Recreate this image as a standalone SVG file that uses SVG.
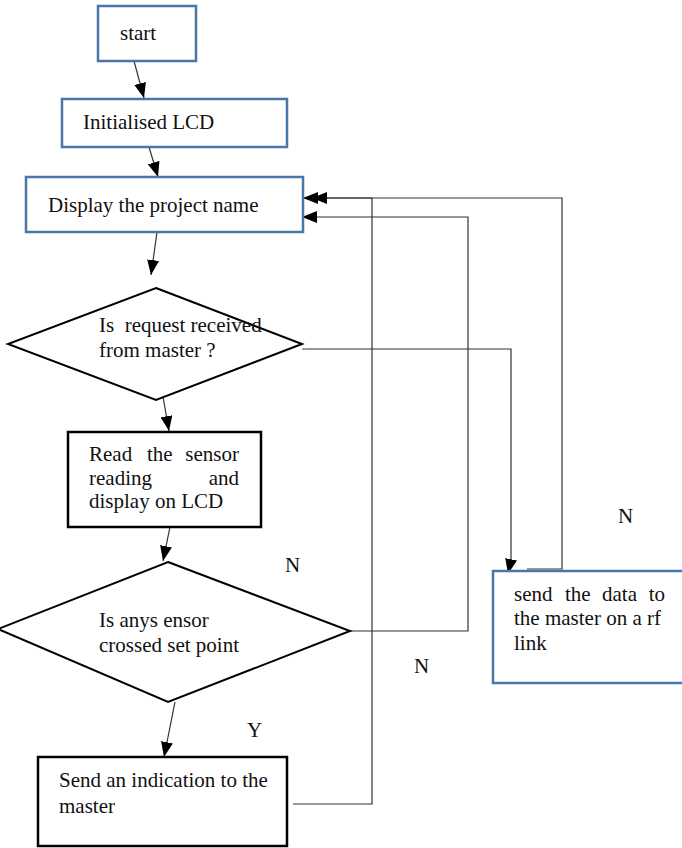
<svg xmlns="http://www.w3.org/2000/svg" width="682" height="848" viewBox="0 0 682 848">
<defs>
<marker id="ah" viewBox="0 0 15 12" refX="15" refY="6" markerWidth="15" markerHeight="12" markerUnits="userSpaceOnUse" orient="auto">
<path d="M0,0 L15,6 L0,12 Z" fill="#000"/>
</marker>
</defs>
<style>
.t{font-family:'Liberation Serif','Times New Roman','DejaVu Serif',serif;font-size:21px;fill:#111}
.e{text-anchor:end}
.blue{fill:#fff;stroke:#4a76a8;stroke-width:2.5}
.blk{fill:#fff;stroke:#000;stroke-width:2.5}
.dia{fill:#fff;stroke:#000;stroke-width:2}
.con{fill:none;stroke:#333;stroke-width:1.2}
</style>
<rect width="682" height="848" fill="#fff"/>
<g id="connectors">
<line class="con" x1="134" y1="61" x2="144" y2="98" marker-end="url(#ah)"/>
<line class="con" x1="149" y1="147" x2="158" y2="177" marker-end="url(#ah)"/>
<line class="con" x1="157" y1="232" x2="151" y2="275" marker-end="url(#ah)"/>
<line class="con" x1="162" y1="391" x2="169" y2="431" marker-end="url(#ah)"/>
<line class="con" x1="170" y1="527" x2="163" y2="561" marker-end="url(#ah)"/>
<line class="con" x1="175" y1="702" x2="164" y2="757" marker-end="url(#ah)"/>
<polyline class="con" points="302,349 511,349 511,560 508,574" marker-end="url(#ah)"/>
<polyline class="con" points="527,569 562,569 562,198 303,198" marker-end="url(#ah)"/>
<polyline class="con" points="293,804 372,804 372,198 312,198" marker-end="url(#ah)"/>
<polyline class="con" points="350,631 468,631 468,217 302,217" marker-end="url(#ah)"/>
</g>
<g id="start">
<rect class="blue" x="98" y="6" width="98" height="55"/>
<text class="t" x="120" y="40">start</text>
</g>
<g id="init">
<rect class="blue" x="62" y="99" width="225" height="48"/>
<text class="t" x="83" y="129">Initialised LCD</text>
</g>
<g id="display">
<rect class="blue" x="26" y="177" width="277" height="55"/>
<text class="t" x="48" y="212">Display the project name</text>
</g>
<g id="request">
<polygon class="dia" points="156,288 302,344 156,400 8,344"/>
<text class="t" x="99" y="332" xml:space="preserve">Is  request received</text>
<text class="t" x="99" y="357">from master ?</text>
</g>
<g id="read">
<rect class="blk" x="68" y="432" width="193" height="95"/>
<text class="t" x="89" y="461">Read</text>
<text class="t" x="147" y="461">the</text>
<text class="t e" x="239" y="461">sensor</text>
<text class="t" x="89" y="485">reading</text>
<text class="t e" x="239" y="485">and</text>
<text class="t" x="89" y="508">display on LCD</text>
</g>
<g id="crossed">
<polygon class="dia" points="168,562 350,631 168,702 -2,629"/>
<text class="t" x="99" y="627">Is anys ensor</text>
<text class="t" x="99" y="652">crossed set point</text>
</g>
<g id="indication">
<rect class="blk" x="38" y="757" width="249" height="89"/>
<text class="t" x="59" y="787">Send an indication to the</text>
<text class="t" x="59" y="813">master</text>
</g>
<g id="senddata">
<rect class="blue" x="493" y="571" width="200" height="112"/>
<text class="t" x="514" y="601">send</text>
<text class="t" x="565" y="601">the</text>
<text class="t" x="602" y="601">data</text>
<text class="t e" x="665" y="601">to</text>
<text class="t" x="514" y="625">the master on a rf</text>
<text class="t" x="514" y="650">link</text>
</g>
<g id="labels">
<text class="t" x="285" y="572">N</text>
<text class="t" x="618" y="523">N</text>
<text class="t" x="414" y="673">N</text>
<text class="t" x="247" y="737">Y</text>
</g>
</svg>
